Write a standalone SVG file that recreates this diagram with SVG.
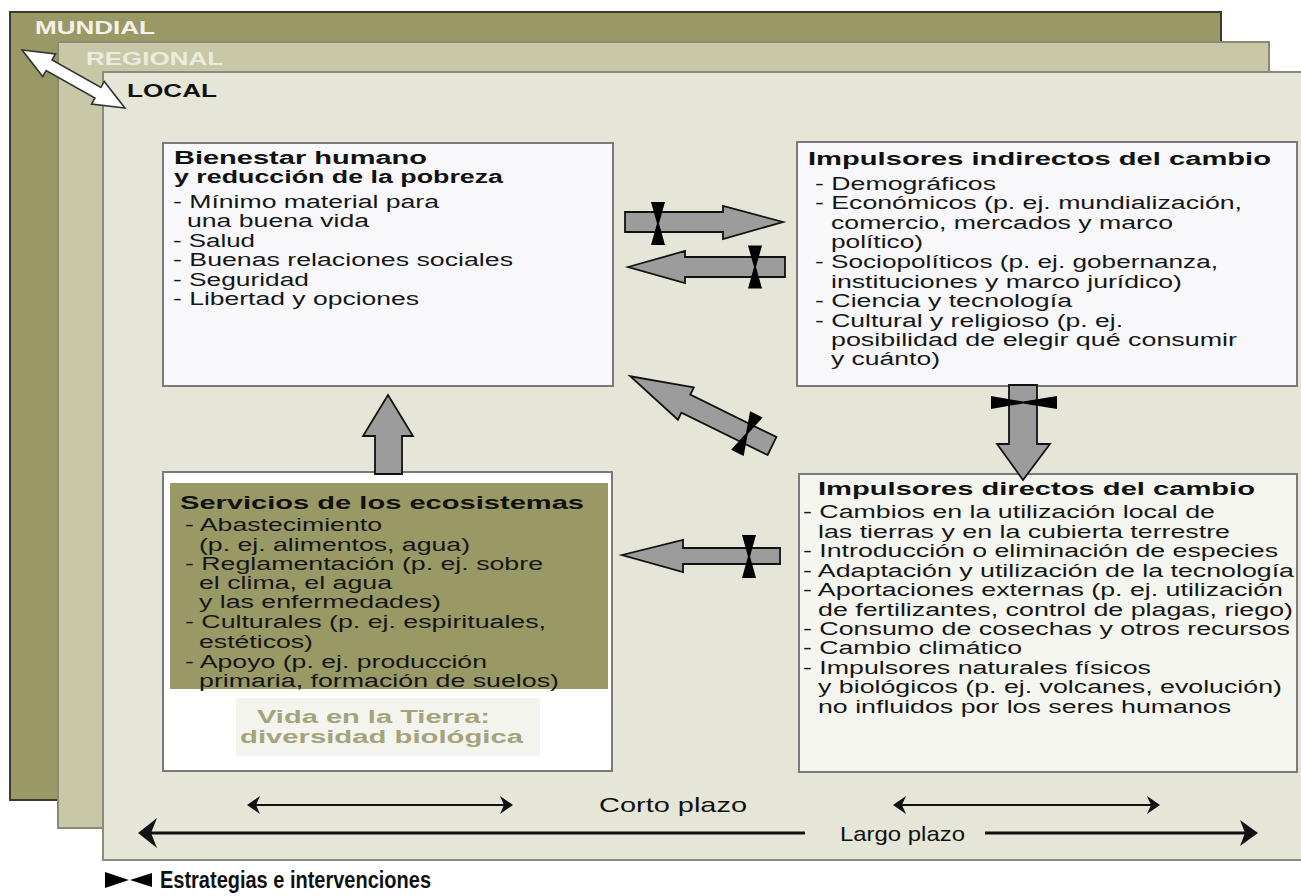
<svg xmlns="http://www.w3.org/2000/svg" xmlns:xlink="http://www.w3.org/1999/xlink" width="1301" height="896" viewBox="0 0 1301 896">
<style>
.t{font-family:"Liberation Sans",Arial,sans-serif;font-size:18px;fill:#161616}
.b{font-family:"Liberation Sans",Arial,sans-serif;font-size:18px;font-weight:bold;fill:#111}
.box{stroke:#7a7a7a;stroke-width:2}
.ga{fill:#9c9c9c;stroke:#111;stroke-width:1.8;stroke-linejoin:miter}
.bt{fill:#000}
.tl{stroke:#111;fill:none}
.ah{fill:#111}
.lab{font-family:"Liberation Sans",Arial,sans-serif;font-size:21px;fill:#111}
</style>
<defs>
<path id="hg" d="M-7,-21.5 L7,-21.5 L1,0 L7,21.5 L-7,21.5 L-1,0 Z"/>
</defs>

<g id="layers">
<rect x="10" y="12" width="1211" height="788" fill="#999966" stroke="#3a3a30" stroke-width="2"/>
<text x="35" y="34" font-family="Liberation Sans,Arial,sans-serif" font-weight="bold" font-size="18" fill="#f2f2ea" textLength="120" lengthAdjust="spacingAndGlyphs">MUNDIAL</text>
<rect x="58" y="42" width="1211" height="786" fill="#c8c7a7" stroke="#8a8a72" stroke-width="2"/>
<text x="86" y="65" font-family="Liberation Sans,Arial,sans-serif" font-weight="bold" font-size="18" fill="#ececde" textLength="137" lengthAdjust="spacingAndGlyphs">REGIONAL</text>
<rect x="103" y="72" width="1210" height="788" fill="#e6e6d8" stroke="#8a8a80" stroke-width="2"/>
<text x="127" y="97" font-family="Liberation Sans,Arial,sans-serif" font-weight="bold" font-size="18" fill="#111" textLength="90" lengthAdjust="spacingAndGlyphs">LOCAL</text>
<path d="M-59,0 L-28,-13 L-28,-6 L28,-6 L28,-13 L59,0 L28,13 L28,6 L-28,6 L-28,13 Z" transform="translate(73.5,79) rotate(29.4)" fill="#fff" stroke="#333" stroke-width="1.6"/>
</g>

<g id="bienestar">
<rect class="box" x="163" y="143" width="450" height="243" fill="#f8f8fa"/>
<text class="b" x="174" y="164" textLength="253" lengthAdjust="spacingAndGlyphs">Bienestar humano</text>
<text class="b" x="174" y="183" textLength="329" lengthAdjust="spacingAndGlyphs">y reducción de la pobreza</text>
<text class="t" x="173" y="208" textLength="266" lengthAdjust="spacingAndGlyphs">- Mínimo material para</text>
<text class="t" x="187" y="227" textLength="182" lengthAdjust="spacingAndGlyphs">una buena vida</text>
<text class="t" x="173" y="247" textLength="82" lengthAdjust="spacingAndGlyphs">- Salud</text>
<text class="t" x="173" y="266" textLength="340" lengthAdjust="spacingAndGlyphs">- Buenas relaciones sociales</text>
<text class="t" x="173" y="286" textLength="136" lengthAdjust="spacingAndGlyphs">- Seguridad</text>
<text class="t" x="173" y="305" textLength="246" lengthAdjust="spacingAndGlyphs">- Libertad y opciones</text>
</g>

<g id="indirectos">
<rect class="box" x="797" y="142" width="500" height="244" fill="#f8f8fa"/>
<text class="b" x="808" y="165" textLength="463" lengthAdjust="spacingAndGlyphs">Impulsores indirectos del cambio</text>
<text class="t" x="815" y="190" textLength="181" lengthAdjust="spacingAndGlyphs">- Demográficos</text>
<text class="t" x="815" y="209" textLength="427" lengthAdjust="spacingAndGlyphs">- Económicos (p. ej. mundialización,</text>
<text class="t" x="831" y="229" textLength="342" lengthAdjust="spacingAndGlyphs">comercio, mercados y marco</text>
<text class="t" x="831" y="248" textLength="92" lengthAdjust="spacingAndGlyphs">político)</text>
<text class="t" x="815" y="268" textLength="403" lengthAdjust="spacingAndGlyphs">- Sociopolíticos (p. ej. gobernanza,</text>
<text class="t" x="831" y="288" textLength="351" lengthAdjust="spacingAndGlyphs">instituciones y marco jurídico)</text>
<text class="t" x="815" y="307" textLength="257" lengthAdjust="spacingAndGlyphs">- Ciencia y tecnología</text>
<text class="t" x="815" y="327" textLength="308" lengthAdjust="spacingAndGlyphs">- Cultural y religioso (p. ej.</text>
<text class="t" x="831" y="346" textLength="406" lengthAdjust="spacingAndGlyphs">posibilidad de elegir qué consumir</text>
<text class="t" x="831" y="365" textLength="109" lengthAdjust="spacingAndGlyphs">y cuánto)</text>
</g>

<g id="directos">
<rect class="box" x="799" y="474" width="498" height="298" fill="#f6f6f0"/>
<text class="b" x="818" y="495" textLength="437" lengthAdjust="spacingAndGlyphs">Impulsores directos del cambio</text>
<text class="t" x="803" y="518" textLength="412" lengthAdjust="spacingAndGlyphs">- Cambios en la utilización local de</text>
<text class="t" x="818" y="538" textLength="412" lengthAdjust="spacingAndGlyphs">las tierras y en la cubierta terrestre</text>
<text class="t" x="803" y="557" textLength="475" lengthAdjust="spacingAndGlyphs">- Introducción o eliminación de especies</text>
<text class="t" x="803" y="577" textLength="491" lengthAdjust="spacingAndGlyphs">- Adaptación y utilización de la tecnología</text>
<text class="t" x="803" y="596" textLength="480" lengthAdjust="spacingAndGlyphs">- Aportaciones externas (p. ej. utilización</text>
<text class="t" x="818" y="616" textLength="475" lengthAdjust="spacingAndGlyphs">de fertilizantes, control de plagas, riego)</text>
<text class="t" x="803" y="635" textLength="487" lengthAdjust="spacingAndGlyphs">- Consumo de cosechas y otros recursos</text>
<text class="t" x="803" y="654" textLength="219" lengthAdjust="spacingAndGlyphs">- Cambio climático</text>
<text class="t" x="803" y="674" textLength="348" lengthAdjust="spacingAndGlyphs">- Impulsores naturales físicos</text>
<text class="t" x="818" y="693" textLength="464" lengthAdjust="spacingAndGlyphs">y biológicos (p. ej. volcanes, evolución)</text>
<text class="t" x="818" y="713" textLength="413" lengthAdjust="spacingAndGlyphs">no influidos por los seres humanos</text>
</g>

<g id="servicios">
<rect class="box" x="163" y="472" width="449" height="299" fill="#ffffff"/>
<rect x="170" y="483" width="438" height="206" fill="#999966"/>
<text class="b" x="180" y="509" textLength="404" lengthAdjust="spacingAndGlyphs">Servicios de los ecosistemas</text>
<text class="t" x="185" y="531" textLength="197" lengthAdjust="spacingAndGlyphs">- Abastecimiento</text>
<text class="t" x="199" y="551" textLength="271" lengthAdjust="spacingAndGlyphs">(p. ej. alimentos, agua)</text>
<text class="t" x="185" y="570" textLength="358" lengthAdjust="spacingAndGlyphs">- Reglamentación (p. ej. sobre</text>
<text class="t" x="199" y="589" textLength="193" lengthAdjust="spacingAndGlyphs">el clima, el agua</text>
<text class="t" x="199" y="608" textLength="242" lengthAdjust="spacingAndGlyphs">y las enfermedades)</text>
<text class="t" x="185" y="628" textLength="361" lengthAdjust="spacingAndGlyphs">- Culturales (p. ej. espirituales,</text>
<text class="t" x="199" y="648" textLength="114" lengthAdjust="spacingAndGlyphs">estéticos)</text>
<text class="t" x="185" y="668" textLength="302" lengthAdjust="spacingAndGlyphs">- Apoyo (p. ej. producción</text>
<text class="t" x="199" y="687" textLength="360" lengthAdjust="spacingAndGlyphs">primaria, formación de suelos)</text>
<rect x="236" y="698" width="304" height="58" fill="#f4f4ee"/>
<text class="b" x="257" y="723" fill="#a5a37d" style="fill:#a5a37d" textLength="233" lengthAdjust="spacingAndGlyphs">Vida en la Tierra:</text>
<text class="b" x="240" y="743" style="fill:#a5a37d" textLength="283" lengthAdjust="spacingAndGlyphs">diversidad biológica</text>
</g>

<g id="connectors">
<path class="ga" d="M625,212 L723,212 L723,206 L783,222 L723,239 L723,232 L625,232 Z"/>
<use href="#hg" class="bt" transform="translate(658,223.5)"/>
<path class="ga" d="M628,267 L685,251 L685,257 L785,257 L785,277 L685,277 L685,283 Z"/>
<use href="#hg" class="bt" transform="translate(755,267)"/>
<path class="ga" d="M0,-10 L96,-10 L96,-18 L158,0 L96,18 L96,10 L0,10 Z" transform="translate(772,446) rotate(206.2)"/>
<use href="#hg" class="bt" transform="translate(772,446) rotate(206.2) translate(28,0)"/>
<path class="ga" d="M388,395 L413,436 L402,436 L402,474 L375,474 L375,436 L363,436 Z"/>
<path class="ga" d="M1009,385 L1037,385 L1037,444 L1050,444 L1023,480 L997,444 L1009,444 Z"/>
<path class="bt" d="M991,396 L991,409 L1023,403.5 L1057,409 L1057,396 L1023,401.5 Z"/>
<path class="ga" d="M622,555 L683,540 L683,548 L780,548 L780,564 L683,564 L683,572 Z"/>
<use href="#hg" class="bt" transform="translate(749,556.5)"/>
</g>

<g id="timeline">
<line class="tl" x1="252" y1="805" x2="508" y2="805" stroke-width="2"/>
<path class="ah" d="M247,805 L260,796 L256,805 L260,814 Z"/>
<path class="ah" d="M513,805 L500,796 L504,805 L500,814 Z"/>
<text class="lab" x="599" y="812" textLength="148" lengthAdjust="spacingAndGlyphs">Corto plazo</text>
<line class="tl" x1="898" y1="805" x2="1155" y2="805" stroke-width="2"/>
<path class="ah" d="M893,805 L906,796 L902,805 L906,814 Z"/>
<path class="ah" d="M1160,805 L1147,796 L1151,805 L1147,814 Z"/>
<line class="tl" x1="145" y1="833" x2="805" y2="833" stroke-width="3"/>
<path class="ah" d="M138,833 L157,818 L151,833 L157,848 Z"/>
<text class="lab" x="840" y="841" textLength="125" lengthAdjust="spacingAndGlyphs">Largo plazo</text>
<line class="tl" x1="985" y1="833" x2="1250" y2="833" stroke-width="3"/>
<path class="ah" d="M1258,833 L1240,820 L1245,833 L1240,846 Z"/>
</g>

<g id="legend">
<path class="bt" d="M105,872 L129,880 L105,888 Z"/>
<path class="bt" d="M152,873 L130,880 L152,887 Z"/>
<text x="160" y="888" font-family="Liberation Sans,Arial,sans-serif" font-weight="bold" font-size="23" fill="#111" textLength="271" lengthAdjust="spacingAndGlyphs">Estrategias e intervenciones</text>
</g>
</svg>
